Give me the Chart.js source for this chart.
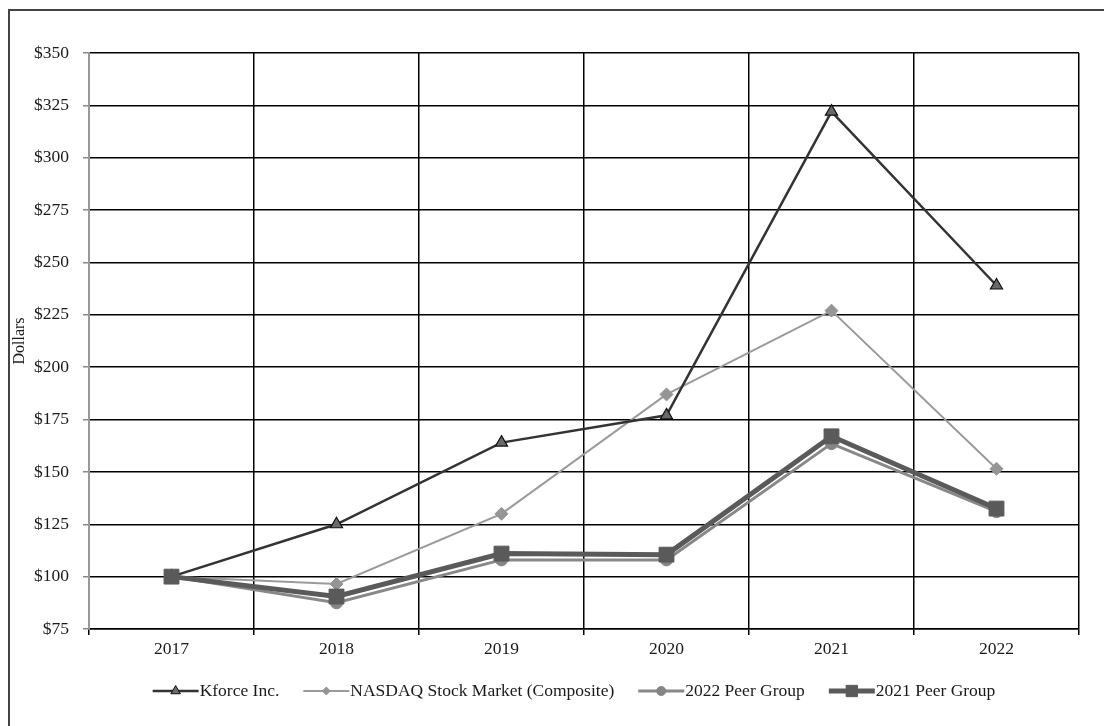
<!DOCTYPE html>
<html>
<head>
<meta charset="utf-8">
<script src="https://cdn.jsdelivr.net/npm/chart.js@4/dist/chart.umd.min.js"></script>
<style>
  html, body { margin: 0; padding: 0; background: #fff; }
  #wrap { width: 1104px; height: 726px; }
</style>
</head>
<body>
<div id="wrap"><canvas id="myChart" width="1104" height="726"></canvas></div>
<script>
var years = ['2017', '2018', '2019', '2020', '2021', '2022'];
var kforce = [100, 125, 164, 177, 322, 239];
var nasdaq = [100, 96.5, 130, 187, 227, 151.5];
var peer2022 = [100, 87.5, 108, 108, 163.5, 131];
var peer2021 = [100, 90.5, 111, 110.5, 167, 132.5];
var yTicks = [75, 100, 125, 150, 175, 200, 225, 250, 275, 300, 325, 350];

var serif = '"Liberation Serif", "Times New Roman", serif';

// draws one marker, used in the legend
function marker(ctx, style, x, y, r, fill, stroke) {
    ctx.save();
    ctx.fillStyle = fill;
    ctx.strokeStyle = stroke;
    ctx.lineWidth = 1;
    ctx.beginPath();
    if (style === 'triangle') {
        ctx.moveTo(x, y - r);
        ctx.lineTo(x + r * 0.87, y + r * 0.5);
        ctx.lineTo(x - r * 0.87, y + r * 0.5);
        ctx.closePath();
    } else if (style === 'rectRot') {
        ctx.moveTo(x, y - r);
        ctx.lineTo(x + r, y);
        ctx.lineTo(x, y + r);
        ctx.lineTo(x - r, y);
        ctx.closePath();
    } else if (style === 'circle') {
        ctx.arc(x, y, r, 0, Math.PI * 2);
    } else {
        var s = r * Math.SQRT1_2;
        ctx.rect(x - s, y - s, s * 2, s * 2);
    }
    ctx.fill();
    ctx.stroke();
    ctx.restore();
}

var framePlugin = {
    id: 'frame',
    beforeDraw: function (chart) {
        var c = chart.ctx;
        c.save();
        c.fillStyle = '#fff';
        c.fillRect(0, 0, chart.width, chart.height);
        c.strokeStyle = '#444';
        c.lineWidth = 2;
        c.beginPath();
        c.moveTo(9, chart.height);
        c.lineTo(9, 10);
        c.lineTo(chart.width, 10);
        c.stroke();
        c.restore();
    },
    afterDraw: function (chart) {
        var c = chart.ctx;
        var y = 691;
        var lineLen = 46;
        c.save();
        c.font = '17.5px ' + serif;
        c.textBaseline = 'middle';
        var items = chart.data.datasets.map(function (ds) {
            return { ds: ds, w: lineLen + 1 + c.measureText(ds.label).width };
        });
        var gap = 24;
        var total = items.reduce(function (a, it) { return a + it.w; }, 0) + gap * (items.length - 1);
        var x = 574 - total / 2;
        items.forEach(function (it) {
            var ds = it.ds;
            c.strokeStyle = ds.borderColor;
            c.lineWidth = ds.borderWidth;
            c.beginPath();
            c.moveTo(x, y);
            c.lineTo(x + lineLen, y);
            c.stroke();
            marker(c, ds.pointStyle, x + lineLen / 2, y, ds.legendRadius, ds.pointBackgroundColor, ds.pointBorderColor);
            c.fillStyle = '#1a1a1a';
            c.fillText(ds.label, x + lineLen + 1, y);
            x += it.w + gap;
        });
        c.restore();
    }
};

var ctx = document.getElementById('myChart').getContext('2d');

var chart = new Chart(ctx, {
    type: 'line',
    data: {
        labels: years,
        datasets: [
            {
                label: 'Kforce Inc.',
                data: kforce,
                borderColor: '#333333',
                borderWidth: 2.5,
                pointStyle: 'triangle',
                pointRadius: 7,
                pointBackgroundColor: '#6a6a6a',
                pointBorderColor: '#111111',
                pointBorderWidth: 1.2,
                legendRadius: 5.5,
                order: 1
            },
            {
                label: 'NASDAQ Stock Market (Composite)',
                data: nasdaq,
                borderColor: '#9a9a9a',
                borderWidth: 2,
                pointStyle: 'rectRot',
                pointRadius: 6.5,
                pointBackgroundColor: '#959595',
                pointBorderColor: '#959595',
                pointBorderWidth: 1,
                legendRadius: 4,
                order: 3
            },
            {
                label: '2022 Peer Group',
                data: peer2022,
                borderColor: '#888888',
                borderWidth: 3,
                pointStyle: 'circle',
                pointRadius: 6,
                pointBackgroundColor: '#858585',
                pointBorderColor: '#858585',
                pointBorderWidth: 1,
                legendRadius: 4.5,
                order: 2
            },
            {
                label: '2021 Peer Group',
                data: peer2021,
                borderColor: '#5a5a5a',
                borderWidth: 5,
                pointStyle: 'rect',
                pointRadius: 10.5,
                pointBackgroundColor: '#5a5a5a',
                pointBorderColor: '#5a5a5a',
                pointBorderWidth: 1,
                legendRadius: 8,
                order: 0
            }
        ]
    },
    options: {
        responsive: false,
        animation: false,
        layout: { padding: { top: 53, right: 25, left: 0, bottom: 57 } },
        elements: { line: { tension: 0 } },
        plugins: {
            legend: { display: false },
            tooltip: { enabled: false }
        },
        scales: {
            x: {
                offset: true,
                grid: {
                    offset: true,
                    color: function (c) { return c.index === 0 ? '#999999' : '#000000'; },
                    tickColor: '#000000',
                    lineWidth: 1.5,
                    tickLength: 6
                },
                border: { color: '#000000', width: 1.5 },
                ticks: {
                    color: '#1a1a1a',
                    padding: 4,
                    font: { family: serif, size: 17.5 }
                },
                afterFit: function (s) { s.height = 40; }
            },
            y: {
                min: 75,
                max: 350,
                afterBuildTicks: function (s) {
                    s.ticks = yTicks.map(function (v) { return { value: v }; });
                },
                grid: {
                    color: '#000000',
                    tickColor: '#888888',
                    lineWidth: 1.5,
                    tickLength: 6
                },
                border: { color: '#999999', width: 2 },
                ticks: {
                    color: '#1a1a1a',
                    padding: 14,
                    font: { family: serif, size: 17.5 },
                    callback: function (v) { return '$' + v; }
                },
                title: {
                    display: true,
                    text: 'Dollars',
                    color: '#1a1a1a',
                    font: { family: serif, size: 16 },
                    padding: { top: 10, bottom: 0 }
                },
                afterFit: function (s) { s.width = 89; }
            }
        }
    },
    plugins: [framePlugin]
});
</script>
</body>
</html>
